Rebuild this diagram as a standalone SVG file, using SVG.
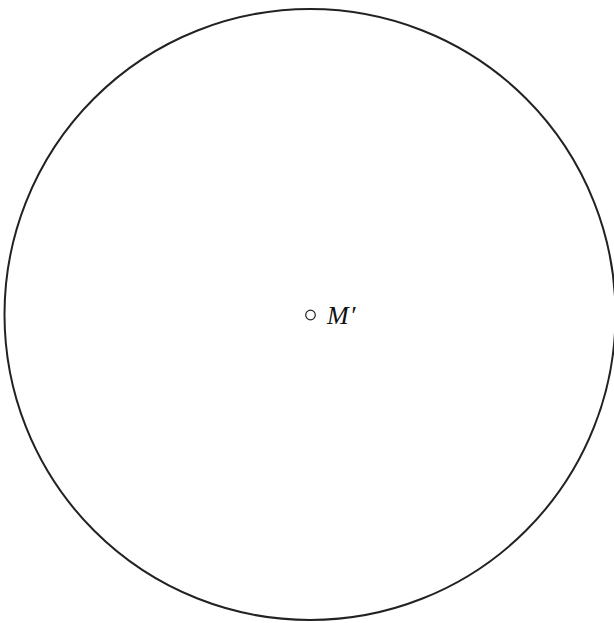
<svg xmlns="http://www.w3.org/2000/svg" width="614" height="623" viewBox="0 0 614 623">
<style>
.c{fill:none;stroke:#222;stroke-width:2}
.p{fill:#fff;stroke:#222;stroke-width:1.2}
.t{font-family:"Liberation Serif","DejaVu Serif",serif;font-style:italic;font-size:26px;fill:#111}
</style>
<rect width="614" height="623" fill="#fff"/>
<g id="circle"><circle class="c" cx="310" cy="314.5" r="305.5"/></g>
<g id="M"><circle class="p" cx="310.5" cy="315" r="4.8"/><text class="t" x="327" y="324">M<tspan dx="1">′</tspan></text></g>
</svg>
